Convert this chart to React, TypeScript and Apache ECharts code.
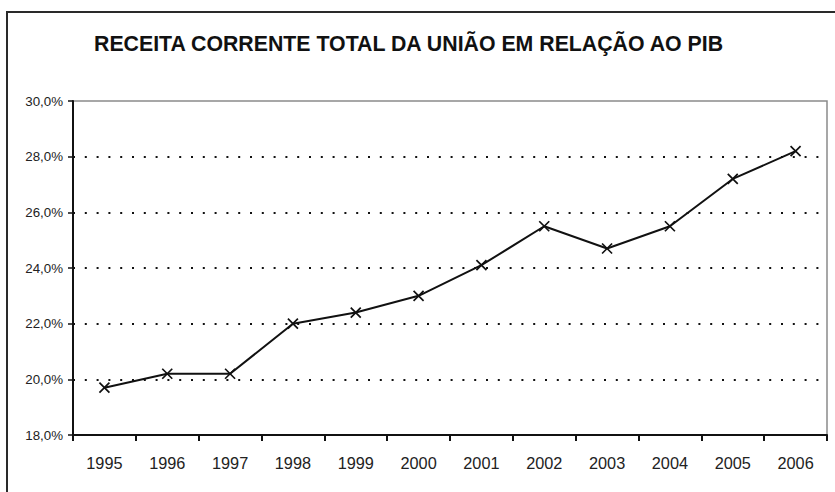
import React, { useEffect, useRef } from "react";
import * as echarts from "echarts";

const titleText = "RECEITA CORRENTE TOTAL DA UNIÃO EM RELAÇÃO AO PIB";
const years = ["1995", "1996", "1997", "1998", "1999", "2000", "2001", "2002", "2003", "2004", "2005", "2006"];
const revenuePct = [19.7, 20.2, 20.2, 22.0, 22.4, 23.0, 24.1, 25.5, 24.7, 25.5, 27.2, 28.2];
const yMin = 18;
const yMax = 30;
const yStep = 2;

const FONT = "'Liberation Sans', Arial, sans-serif";

export default function App() {
  const ref = useRef<HTMLDivElement>(null);
  useEffect(() => {
    if (!ref.current) return;
    const chart = echarts.init(ref.current, null, { renderer: "svg" });
    const splitColors: string[] = [];
    const n = Math.round((yMax - yMin) / yStep) + 1;
    for (let i = 0; i < n; i++) {
      splitColors.push(i === 0 || i === n - 1 ? "rgba(0,0,0,0)" : "#111");
    }
    chart.setOption({
      animation: false,
      backgroundColor: "#fff",
      title: {
        text: titleText,
        left: 94,
        top: 33,
        padding: 0,
        textStyle: { fontFamily: FONT, fontSize: 21.3, fontWeight: "bold", color: "#111" },
      },
      graphic: [
        {
          type: "rect",
          shape: { x: 7, y: 12, width: 840, height: 500 },
          style: { fill: "none", stroke: "#2a2a2a", lineWidth: 2 },
          silent: true,
        },
      ],
      grid: {
        left: 73,
        top: 101,
        right: 8,
        bottom: 57,
        show: true,
        borderColor: "#8a8a8a",
        borderWidth: 1.5,
        backgroundColor: "transparent",
      },
      xAxis: {
        type: "category",
        data: years,
        boundaryGap: true,
        axisLine: { lineStyle: { color: "#111", width: 2 } },
        axisTick: { show: true, length: 6, lineStyle: { color: "#111", width: 2 } },
        axisLabel: { margin: 20, fontFamily: FONT, fontSize: 16.3, color: "#222" },
        splitLine: { show: false },
      },
      yAxis: {
        type: "value",
        min: yMin,
        max: yMax,
        interval: yStep,
        axisLine: { show: true, lineStyle: { color: "#111", width: 2 } },
        axisTick: { show: true, length: 5, lineStyle: { color: "#111", width: 1.5 } },
        axisLabel: {
          margin: 10,
          fontFamily: FONT,
          fontSize: 13.3,
          color: "#222",
          formatter: (v: number) => v.toFixed(1).replace(".", ",") + "%",
        },
        splitLine: {
          show: true,
          lineStyle: { color: splitColors, width: 2, type: [2, 9.8] },
        },
      },
      series: [
        {
          type: "line",
          data: revenuePct,
          symbol: "path://M0,0L10,10M10,0L0,10",
          symbolSize: 10,
          showSymbol: true,
          lineStyle: { color: "#111", width: 2 },
          itemStyle: { color: "#111", borderColor: "#111", borderWidth: 1.7 },
          z: 5,
        },
      ],
    });
    return () => chart.dispose();
  }, []);
  return (
    <div
      ref={ref}
      style={{ position: "fixed", left: 0, top: 0, width: 835, height: 492 }}
    />
  );
}
